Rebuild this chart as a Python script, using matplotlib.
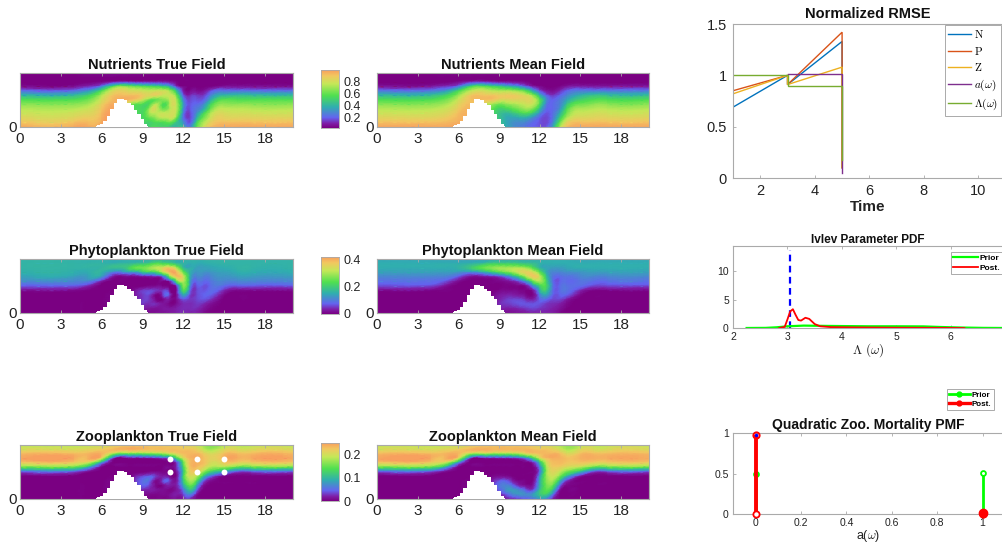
import numpy as np
import matplotlib
matplotlib.use('Agg')
import matplotlib.pyplot as plt
import matplotlib.tri as mtri
from matplotlib.colors import LinearSegmentedColormap

plt.rcParams['font.family'] = ['Liberation Sans', 'DejaVu Sans']
plt.rcParams['mathtext.fontset'] = 'cm'

# field values, in percent of the colour scale
# one list per x node, top of the domain first
field_x = [0, 4, 5, 6, 7, 8, 8.5, 9, 9.5, 10, 10.5, 11, 11.5, 12, 12.5, 13, 13.5, 14, 15, 16, 17, 20]
field_y = [5, 55/12, 50/12, 45/12, 40/12, 35/12, 30/12, 25/12, 20/12, 15/12, 10/12, 5/12, 0]

nutrients_true = [
    [0, 0, 0, 5, 22, 42, 56, 67, 74, 80, 85, 92, 98],
    [0, 0, 0, 5, 22, 42, 56, 67, 74, 80, 85, 92, 98],
    [0, 0, 0, 10, 30, 50, 62, 71, 78, 83, 88, 93, 98],
    [0, 0, 2, 24, 55, 72, 80, 86, 90, 93, 95, 97, 98],
    [0, 0, 8, 60, 84, 92, 95, 96, 96, 96, 96, 96, 96],
    [0, 0, 10, 62, 82, 92, 94, 70, 62, 60, 60, 60, 60],
    [0, 0, 8, 58, 80, 92, 88, 58, 54, 54, 54, 54, 54],
    [0, 0, 8, 55, 78, 88, 78, 55, 52, 52, 52, 52, 52],
    [0, 0, 8, 52, 76, 84, 62, 55, 68, 70, 60, 50, 50],
    [0, 0, 8, 50, 78, 85, 60, 75, 80, 75, 68, 55, 55],
    [0, 0, 8, 45, 78, 78, 65, 55, 62, 78, 75, 55, 50],
    [0, 0, 6, 35, 70, 78, 75, 72, 72, 78, 78, 60, 45],
    [0, 0, 2, 12, 42, 62, 72, 75, 75, 72, 62, 45, 38],
    [0, 0, 0, 2, 8, 18, 28, 33, 30, 25, 22, 30, 45],
    [0, 0, 0, 0, 3, 10, 14, 16, 16, 14, 14, 16, 20],
    [0, 0, 0, 0, 4, 12, 16, 20, 24, 30, 38, 50, 60],
    [0, 0, 0, 0, 5, 12, 18, 28, 36, 52, 62, 72, 80],
    [0, 0, 0, 1, 14, 25, 36, 50, 60, 72, 78, 85, 92],
    [0, 0, 0, 5, 22, 40, 58, 68, 76, 82, 86, 92, 97],
    [0, 0, 0, 5, 22, 42, 56, 67, 75, 80, 85, 92, 98],
    [0, 0, 0, 5, 22, 42, 56, 67, 74, 80, 85, 92, 98],
    [0, 0, 0, 5, 22, 42, 56, 67, 74, 80, 85, 92, 98],
]
nutrients_mean = [
    [0, 0, 0, 7, 24, 43, 56, 67, 74, 80, 85, 92, 98],
    [0, 0, 0, 7, 24, 43, 56, 67, 74, 80, 85, 92, 98],
    [0, 0, 0, 11, 30, 50, 62, 71, 78, 83, 88, 93, 98],
    [0, 0, 3, 22, 52, 68, 78, 84, 88, 92, 94, 96, 98],
    [0, 0, 10, 52, 76, 90, 92, 92, 92, 92, 92, 92, 92],
    [0, 0, 10, 55, 78, 90, 92, 78, 70, 70, 70, 70, 70],
    [0, 0, 8, 50, 74, 90, 90, 70, 60, 55, 55, 55, 55],
    [0, 0, 6, 46, 72, 88, 84, 62, 50, 45, 45, 45, 45],
    [0, 0, 6, 40, 72, 88, 82, 66, 52, 40, 36, 36, 36],
    [0, 0, 5, 35, 70, 88, 84, 70, 58, 44, 34, 30, 30],
    [0, 0, 4, 28, 65, 85, 84, 74, 64, 50, 36, 28, 25],
    [0, 0, 2, 18, 55, 80, 84, 78, 70, 54, 36, 26, 22],
    [0, 0, 0, 8, 35, 68, 80, 76, 64, 46, 28, 20, 18],
    [0, 0, 0, 3, 16, 40, 58, 55, 42, 28, 18, 16, 16],
    [0, 0, 0, 0, 6, 18, 28, 24, 20, 16, 14, 14, 16],
    [0, 0, 0, 0, 4, 12, 18, 20, 20, 22, 24, 28, 36],
    [0, 0, 0, 2, 10, 18, 24, 26, 30, 38, 48, 60, 74],
    [0, 0, 0, 6, 18, 26, 34, 44, 54, 62, 72, 84, 92],
    [0, 0, 0, 8, 24, 38, 50, 62, 72, 78, 84, 92, 97],
    [0, 0, 0, 7, 24, 44, 56, 67, 74, 80, 85, 92, 98],
    [0, 0, 0, 7, 24, 43, 56, 67, 74, 80, 85, 92, 98],
    [0, 0, 0, 7, 24, 43, 56, 67, 74, 80, 85, 92, 98],
]
phyto_true = [
    [38, 38, 38, 36, 32, 26, 17, 3, 0, 0, 0, 0, 0],
    [38, 38, 38, 36, 32, 26, 17, 3, 0, 0, 0, 0, 0],
    [38, 38, 38, 36, 33, 25, 10, 1, 0, 0, 0, 0, 0],
    [38, 38, 39, 38, 30, 8, 0, 0, 0, 0, 0, 0, 0],
    [38, 38, 42, 22, 3, 0, 0, 0, 0, 0, 0, 0, 0],
    [38, 40, 50, 30, 3, 0, 0, 0, 0, 0, 0, 0, 0],
    [38, 42, 60, 30, 3, 0, 0, 6, 8, 8, 8, 6, 4],
    [38, 44, 62, 42, 5, 0, 0, 12, 12, 12, 12, 8, 5],
    [38, 48, 68, 46, 6, 0, 2, 14, 14, 12, 10, 6, 3],
    [38, 55, 75, 50, 8, 0, 3, 12, 2, 3, 10, 5, 4],
    [38, 52, 82, 72, 18, 2, 2, 12, 12, 2, 6, 6, 4],
    [38, 50, 88, 92, 60, 8, 0, 6, 14, 6, 2, 6, 6],
    [38, 42, 72, 94, 90, 55, 12, 3, 4, 4, 4, 8, 8],
    [38, 38, 42, 62, 80, 75, 65, 55, 35, 16, 10, 10, 10],
    [38, 36, 36, 38, 38, 35, 30, 22, 15, 12, 10, 10, 8],
    [38, 36, 33, 30, 26, 20, 16, 14, 14, 14, 12, 10, 8],
    [38, 36, 33, 30, 25, 20, 16, 16, 18, 16, 10, 6, 3],
    [38, 37, 34, 30, 26, 22, 20, 20, 18, 12, 5, 2, 0],
    [38, 38, 36, 33, 30, 26, 20, 10, 3, 0, 0, 0, 0],
    [38, 38, 38, 36, 32, 26, 17, 3, 0, 0, 0, 0, 0],
    [38, 38, 38, 36, 32, 26, 17, 3, 0, 0, 0, 0, 0],
    [38, 38, 38, 36, 32, 26, 17, 3, 0, 0, 0, 0, 0],
]
phyto_mean = [
    [34, 36, 36, 32, 26, 20, 14, 2, 0, 0, 0, 0, 0],
    [34, 36, 36, 32, 26, 20, 14, 2, 0, 0, 0, 0, 0],
    [34, 36, 36, 32, 25, 16, 6, 1, 0, 0, 0, 0, 0],
    [34, 36, 38, 30, 16, 4, 0, 0, 0, 0, 0, 0, 0],
    [34, 38, 48, 26, 4, 0, 0, 0, 0, 0, 0, 0, 0],
    [34, 44, 62, 36, 6, 0, 0, 0, 0, 0, 0, 0, 0],
    [34, 48, 66, 44, 8, 1, 0, 0, 2, 4, 4, 4, 3],
    [36, 48, 70, 52, 12, 2, 0, 2, 6, 8, 10, 8, 5],
    [36, 48, 70, 60, 20, 4, 1, 3, 8, 12, 12, 8, 4],
    [36, 48, 72, 68, 32, 8, 1, 3, 8, 14, 14, 8, 4],
    [36, 46, 72, 80, 48, 16, 2, 2, 6, 14, 16, 10, 5],
    [36, 44, 68, 86, 70, 32, 6, 1, 3, 10, 16, 12, 6],
    [36, 42, 56, 82, 88, 58, 28, 6, 2, 8, 16, 14, 8],
    [36, 38, 40, 60, 78, 72, 50, 36, 24, 18, 16, 12, 8],
    [36, 36, 34, 36, 44, 50, 52, 46, 34, 20, 12, 10, 8],
    [36, 36, 32, 26, 22, 20, 22, 20, 18, 14, 10, 8, 7],
    [36, 36, 32, 26, 20, 18, 20, 20, 18, 14, 8, 5, 2],
    [36, 36, 34, 28, 22, 20, 22, 22, 18, 8, 3, 1, 0],
    [34, 36, 36, 30, 26, 22, 20, 10, 3, 0, 0, 0, 0],
    [34, 36, 36, 32, 26, 20, 14, 2, 0, 0, 0, 0, 0],
    [34, 36, 36, 32, 26, 20, 14, 2, 0, 0, 0, 0, 0],
    [34, 36, 36, 32, 26, 20, 14, 2, 0, 0, 0, 0, 0],
]
zoo_true = [
    [74, 82, 93, 96, 86, 55, 15, 0, 0, 0, 0, 0, 0],
    [74, 82, 93, 96, 86, 55, 15, 0, 0, 0, 0, 0, 0],
    [76, 84, 94, 95, 76, 35, 4, 0, 0, 0, 0, 0, 0],
    [78, 88, 95, 82, 28, 2, 0, 0, 0, 0, 0, 0, 0],
    [82, 94, 64, 4, 0, 0, 0, 0, 0, 0, 0, 0, 0],
    [86, 96, 58, 4, 0, 0, 0, 0, 0, 0, 0, 0, 0],
    [86, 96, 58, 4, 0, 0, 0, 8, 12, 12, 8, 4, 2],
    [86, 94, 60, 5, 0, 0, 0, 14, 20, 18, 10, 4, 2],
    [86, 92, 62, 6, 0, 0, 2, 18, 20, 14, 8, 3, 1],
    [86, 92, 64, 8, 0, 0, 3, 12, 3, 3, 6, 2, 1],
    [86, 92, 68, 12, 0, 1, 2, 8, 14, 3, 4, 3, 1],
    [86, 92, 76, 20, 1, 3, 0, 4, 14, 8, 2, 4, 2],
    [86, 92, 84, 48, 12, 10, 6, 3, 6, 8, 6, 8, 4],
    [86, 90, 92, 78, 58, 50, 45, 50, 45, 35, 22, 14, 6],
    [84, 90, 94, 94, 92, 90, 86, 80, 72, 60, 45, 26, 10],
    [78, 86, 94, 96, 95, 92, 86, 72, 55, 35, 20, 6, 1],
    [70, 76, 88, 92, 92, 84, 68, 42, 18, 5, 1, 0, 0],
    [64, 70, 82, 86, 82, 72, 50, 20, 4, 0, 0, 0, 0],
    [74, 82, 92, 95, 88, 68, 32, 2, 0, 0, 0, 0, 0],
    [74, 82, 93, 96, 86, 55, 15, 0, 0, 0, 0, 0, 0],
    [74, 82, 93, 96, 86, 55, 15, 0, 0, 0, 0, 0, 0],
    [74, 82, 93, 96, 86, 55, 15, 0, 0, 0, 0, 0, 0],
]
zoo_mean = [
    [76, 82, 93, 96, 86, 55, 14, 0, 0, 0, 0, 0, 0],
    [76, 82, 93, 96, 86, 55, 14, 0, 0, 0, 0, 0, 0],
    [76, 84, 94, 94, 76, 35, 4, 0, 0, 0, 0, 0, 0],
    [78, 88, 94, 82, 28, 2, 0, 0, 0, 0, 0, 0, 0],
    [84, 95, 68, 6, 0, 0, 0, 0, 0, 0, 0, 0, 0],
    [86, 96, 70, 6, 0, 0, 0, 0, 0, 0, 0, 0, 0],
    [88, 94, 66, 6, 0, 0, 0, 2, 8, 10, 10, 6, 4],
    [88, 94, 66, 8, 0, 0, 0, 4, 16, 22, 18, 10, 5],
    [88, 94, 66, 8, 0, 0, 0, 4, 18, 26, 28, 16, 6],
    [88, 94, 68, 10, 0, 0, 0, 1, 8, 20, 32, 26, 8],
    [86, 94, 72, 14, 0, 0, 0, 0, 2, 8, 26, 30, 12],
    [86, 94, 82, 24, 1, 0, 0, 0, 1, 4, 16, 28, 16],
    [86, 92, 88, 46, 8, 1, 1, 1, 2, 6, 14, 32, 20],
    [84, 90, 92, 76, 40, 24, 20, 30, 35, 36, 42, 45, 30],
    [82, 90, 94, 92, 78, 70, 68, 68, 66, 62, 58, 48, 24],
    [78, 86, 95, 96, 92, 88, 84, 78, 70, 58, 42, 22, 6],
    [72, 80, 92, 95, 93, 86, 76, 62, 40, 20, 6, 1, 0],
    [68, 72, 84, 92, 90, 80, 62, 38, 12, 2, 0, 0, 0],
    [76, 82, 92, 95, 90, 72, 40, 6, 0, 0, 0, 0, 0],
    [76, 82, 93, 96, 86, 55, 14, 0, 0, 0, 0, 0, 0],
    [76, 82, 93, 96, 86, 55, 14, 0, 0, 0, 0, 0, 0],
    [76, 82, 93, 96, 86, 55, 14, 0, 0, 0, 0, 0, 0],
]

hill_x = [5.6, 5.75, 6, 6.25, 6.5, 6.75, 7, 7.25, 7.5, 7.75, 8, 8.25, 8.5, 8.75, 9, 9.25, 9.4]
hill_y = [0.1, 0.15, 0.3, 0.6, 1.0, 1.65, 2.2, 2.55, 2.6, 2.5, 2.25, 2.0, 1.6, 1.25, 0.75, 0.25, 0.1]
sensor_x = [11, 13, 15, 11, 13, 15]
sensor_y = [3.7, 3.7, 3.7, 2.5, 2.5, 2.5]

rmse_t = [1, 3, 3, 5, 5]
rmse_n = [0.69, 1.0, 0.91, 1.33, 0.1]
rmse_p = [0.85, 1.0, 0.91, 1.42, 0.1]
rmse_z = [0.82, 1.0, 0.91, 1.08, 0.1]
rmse_a = [np.nan, np.nan, 1.01, 1.01, 0.05]
rmse_l = [1.0, 1.0, 0.9, 0.9, 0.18]
rmse_labels = [r'$\mathrm{N}$', r'$\mathrm{P}$', r'$\mathrm{Z}$', r'$a(\omega)$', r'$\Lambda(\omega)$']

prior_x = [2.25, 2.6, 2.8, 3.0, 3.3, 3.6, 4.0, 4.5, 5.0, 5.5, 5.8, 6.2, 6.6, 7.0]
prior_y = [0.0, 0.02, 0.12, 0.3, 0.42, 0.38, 0.34, 0.3, 0.3, 0.28, 0.18, 0.08, 0.02, 0.0]
post_x = [2.85, 2.95, 3.0, 3.05, 3.1, 3.15, 3.2, 3.25, 3.33, 3.4, 3.5, 3.6, 3.8, 4.2, 5.0, 5.6, 6.25]
post_y = [0.0, 0.2, 1.5, 2.9, 3.3, 2.3, 1.4, 1.3, 1.8, 1.6, 0.7, 0.3, 0.15, 0.1, 0.05, 0.03, 0.0]
lambda_true = 3.05
lambda_top = 13.7

pmf_x = [0, 1]
pmf_prior = [0.5, 0.51]
pmf_post = [0.98, 0.01]

bar_tops = [(0.013, 1.0), (0, 0.42), (0, 0.249)]
bar_ticks = [[0.2, 0.4, 0.6, 0.8], [0, 0.2, 0.4], [0, 0.1, 0.2]]

rainbow = LinearSegmentedColormap.from_list('plankton', [
    (0.0, '#7a0082'), (0.08, '#7f1fa8'), (0.18, '#6464f0'), (0.36, '#30aeb0'),
    (0.56, '#50e050'), (0.76, '#c4e858'), (0.9, '#f2c860'), (1.0, '#f8a05e')])

W, H = 1003, 543
GRID = '#aaaaaa'
TEXT = '#222222'


def axes_px(fig, left, top, right, bottom):
    return fig.add_axes([left / W, 1 - bottom / H, (right - left) / W, (bottom - top) / H])


def field_triangles():
    # two triangles per grid cell, then let the library smooth over them
    nx, ny = len(field_x), len(field_y)
    tris = []
    for i in range(nx - 1):
        for j in range(ny - 1):
            a = i * ny + j
            b = a + 1
            c = a + ny
            d = c + 1
            tris += [[a, b, c], [b, d, c]]
    xx, yy = np.meshgrid(field_x, field_y, indexing='ij')
    return mtri.Triangulation(xx.ravel(), yy.ravel(), tris)


def field_panel(fig, box, values, title, sensors=False):
    ax = axes_px(fig, *box)
    tri = field_triangles()
    refiner = mtri.UniformTriRefiner(tri)
    fine, zfine = refiner.refine_field(np.array(values, dtype=float).ravel() / 100.0, subdiv=3)
    ax.tripcolor(fine, np.clip(zfine, 0, 1), cmap=rainbow, vmin=0, vmax=1, shading='gouraud')
    ax.fill_between(hill_x, 0, hill_y, step='mid', color='white', lw=0, zorder=3)
    if sensors:
        ax.scatter(sensor_x, sensor_y, s=18, color='white', zorder=4, lw=0)
    ax.set_xlim(0, 20.05)
    ax.set_ylim(0, 5)
    ax.set_xticks(range(0, 19, 3))
    ax.set_yticks([0])
    ax.tick_params(direction='in', length=2, width=0.6, color=GRID, labelsize=11,
                   labelcolor=TEXT, top=True, pad=3.5)
    ax.tick_params(axis='y', pad=2)
    for s in ax.spines.values():
        s.set_color(GRID)
        s.set_linewidth(0.8)
    ax.set_title(title, fontsize=10.5, fontweight='bold', pad=3, color='#111111')
    return ax


def color_bar(fig, box, top_range, ticks):
    ax = axes_px(fig, *box)
    lo, hi = top_range
    ax.imshow(np.linspace(0, 1, 256)[:, None], origin='lower', aspect='auto', cmap=rainbow,
              extent=[0, 1, lo, hi])
    ax.set_xticks([])
    ax.yaxis.tick_right()
    ax.set_yticks(ticks)
    ax.set_yticklabels([f'{t:g}' for t in ticks])
    ax.tick_params(length=0, labelsize=9, labelcolor=TEXT, pad=3)
    for s in ax.spines.values():
        s.set_color(GRID)
        s.set_linewidth(0.6)


def style_line_axes(ax, size):
    ax.tick_params(direction='in', length=2, width=0.6, color=GRID, labelsize=size,
                   labelcolor=TEXT, pad=3)
    ax.spines['top'].set_color(GRID)
    ax.spines['left'].set_color(GRID)
    ax.spines['bottom'].set_color(GRID)
    ax.spines['right'].set_visible(False)


def main():
    fig = plt.figure(figsize=(W / 100, H / 100), dpi=100)

    field_panel(fig, (20, 73, 293, 127), nutrients_true, 'Nutrients True Field')
    field_panel(fig, (377, 73, 649, 127), nutrients_mean, 'Nutrients Mean Field')
    field_panel(fig, (20, 259, 293, 313), phyto_true, 'Phytoplankton True Field')
    field_panel(fig, (377, 259, 649, 313), phyto_mean, 'Phytoplankton Mean Field')
    field_panel(fig, (20, 445, 293, 499), zoo_true, 'Zooplankton True Field', sensors=True)
    field_panel(fig, (377, 445, 649, 499), zoo_mean, 'Zooplankton Mean Field')

    color_bar(fig, (321, 70, 339, 128), bar_tops[0], bar_ticks[0])
    color_bar(fig, (321, 257, 339, 314), bar_tops[1], bar_ticks[1])
    color_bar(fig, (321, 443, 339, 501), bar_tops[2], bar_ticks[2])

    # RMSE
    ax = axes_px(fig, 733, 24, 1003, 178)
    colors = ['#0072bd', '#d95319', '#edb120', '#7e2f8e', '#77ac30']
    for vals, c, lab in zip([rmse_n, rmse_p, rmse_z, rmse_a, rmse_l], colors, rmse_labels):
        ax.plot(rmse_t, vals, color=c, lw=1.0, label=lab, solid_joinstyle='miter')
    ax.set_xlim(1, 10.9)
    ax.set_ylim(0, 1.5)
    ax.set_xticks([2, 4, 6, 8, 10])
    ax.set_yticks([0, 0.5, 1, 1.5])
    ax.set_yticklabels(['0', '0.5', '1', '1.5'])
    style_line_axes(ax, 10.5)
    ax.tick_params(pad=4.5)
    ax.set_title('Normalized RMSE', fontsize=10.5, fontweight='bold', pad=4, color='#111111')
    ax.set_xlabel('Time', fontsize=11, fontweight='bold', labelpad=1, color=TEXT)
    leg = ax.legend(loc='upper left', bbox_to_anchor=(212 / 270, 0.995), fontsize=8, frameon=True,
                    fancybox=False, edgecolor=GRID, framealpha=1, borderaxespad=0, borderpad=0.3,
                    labelspacing=0.4, handlelength=2.0, handletextpad=0.3)
    leg.get_frame().set_linewidth(0.7)

    # Ivlev PDF
    ax = axes_px(fig, 733, 246, 1003, 328)
    ax.plot([lambda_true, lambda_true], [0, lambda_top], color='blue', lw=1.6, ls=(0, (3, 2)))
    ax.plot(prior_x, prior_y, color='#00ff00', lw=1.6, label='Prior')
    ax.plot(post_x, post_y, color='red', lw=1.3, label='Post.')
    ax.set_xlim(2, 6.96)
    ax.set_ylim(0, 14.4)
    ax.set_xticks([2, 3, 4, 5, 6])
    ax.set_yticks([0, 5, 10])
    style_line_axes(ax, 7.5)
    ax.tick_params(top=True)
    ax.set_title('Ivlev Parameter PDF', fontsize=8.5, fontweight='bold', pad=2, color='#111111')
    ax.set_xlabel(r'$\Lambda\ (\omega)$', fontsize=9.5, labelpad=-1, color=TEXT)
    leg = ax.legend(loc='upper left', bbox_to_anchor=(218 / 270, 0.927), frameon=True,
                    fancybox=False, edgecolor=GRID, framealpha=1, borderaxespad=0, borderpad=0.3,
                    labelspacing=0.2, handlelength=2.9, handletextpad=0.25,
                    prop={'size': 6, 'weight': 'bold'})
    leg.get_frame().set_linewidth(0.7)

    # mortality PMF
    ax = axes_px(fig, 733, 433, 1003, 514)
    ax.vlines(pmf_x, 0, pmf_prior, color='#00ff00', lw=2, zorder=2)
    ax.plot(pmf_x, pmf_prior, 'o', color='#00ff00', ms=3.5, mfc='white', mew=1.3, zorder=2)
    ax.vlines(pmf_x, 0, pmf_post, color='red', lw=2.8, zorder=3)
    ax.plot(pmf_x, pmf_post, 'o', color='red', ms=4.5, mfc='none', mew=1.4, zorder=4, clip_on=False)
    ax.plot(pmf_x, [0, 0], 'o', color='red', ms=4.5, mfc='white', mew=1.3, zorder=4, clip_on=False)
    ax.plot(pmf_x[1], pmf_post[1], 'o', color='red', ms=6, zorder=5, clip_on=False)
    ax.plot(pmf_x[0], pmf_post[0], 'o', color='blue', ms=1.5, zorder=5)
    ax.set_xlim(-0.1, 1.09)
    ax.set_ylim(0, 1)
    ax.set_xticks([0, 0.2, 0.4, 0.6, 0.8, 1])
    ax.set_xticklabels(['0', '0.2', '0.4', '0.6', '0.8', '1'])
    ax.set_yticks([0, 0.5, 1])
    ax.set_yticklabels(['0', '0.5', '1'])
    style_line_axes(ax, 7.5)
    ax.tick_params(top=True)
    ax.set_title('Quadratic Zoo. Mortality PMF', fontsize=10, fontweight='bold', pad=3, color='#111111')
    ax.set_xlabel(r'a($\omega$)', fontsize=9, labelpad=0, color=TEXT)
    handles = [plt.Line2D([], [], color='#00ff00', lw=2, marker='o', ms=3.5),
               plt.Line2D([], [], color='red', lw=2.4, marker='o', ms=3.5)]
    leg = ax.legend(handles, ['Prior', 'Post.'], loc='lower left', bbox_to_anchor=(214 / 270, 1.284),
                    frameon=True, fancybox=False, edgecolor=GRID, framealpha=1, borderaxespad=0,
                    borderpad=0.25, labelspacing=0.2, handlelength=2.6, handletextpad=0.25,
                    prop={'size': 5.8, 'weight': 'bold'})
    leg.get_frame().set_linewidth(0.7)

    fig.savefig('out.png', dpi=100)


if __name__ == "__main__":
    main()
